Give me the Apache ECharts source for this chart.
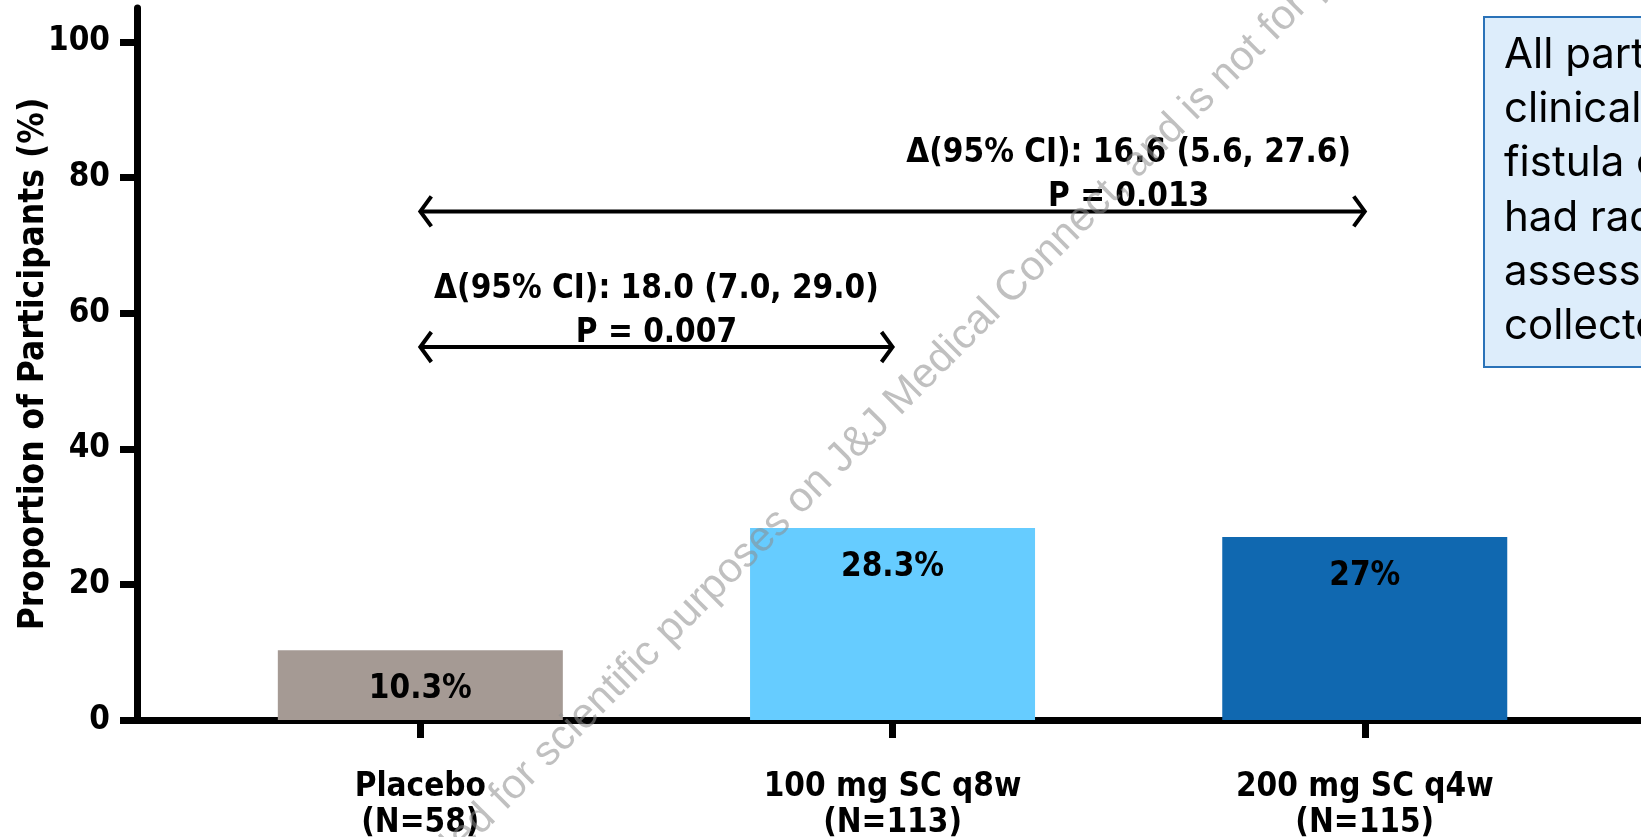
<!DOCTYPE html>
<html><head><meta charset="utf-8">
<style>html,body{margin:0;padding:0;background:#fff;overflow:hidden}#c{width:1641px;height:837px}</style>
<script src="https://cdn.jsdelivr.net/npm/echarts@6/dist/echarts.min.js"></script>
</head><body><div id="c"></div>
<script>
// ---- data ----
const categories = ['Placebo\n(N=58)', '100 mg SC q8w\n(N=113)', '200 mg SC q4w\n(N=115)'];
const values = [10.3, 28.3, 27];
const barLabels = ['10.3%', '28.3%', '27%'];
const barColors = ['#A59A94', '#66CCFF', '#1068B0'];
const yTicks = [0, 20, 40, 60, 80, 100];
const arrowFrom = [0, 0];
const arrowTo = [1, 2];
const arrowY = [55, 75];
const annotX = [0.5, 1.5];
const annotText = ['Δ(95% CI): 18.0 (7.0, 29.0)\nP = 0.007', 'Δ(95% CI): 16.6 (5.6, 27.6)\nP = 0.013'];
const noteText = 'All participants with\nclinical response of\nfistula closure who\nhad radiological\nassessments\ncollected';
const watermarkPre = 'This content is provided';
const watermarkPost = 'for scientific purposes on J&J Medical Connect, and is not for promotional use';

const FONT = '"DejaVu Sans Condensed", "DejaVu Sans", sans-serif';
const chart = echarts.init(document.getElementById('c'), null, {renderer: 'canvas'});

chart.setOption({
  animation: false,
  backgroundColor: '#ffffff',
  grid: {left: 137, right: 0, top: 8, bottom: 117, containLabel: false, outerBoundsMode: 'none'},
  xAxis: {
    type: 'value', min: -0.6, max: 2.585,
    splitLine: {show: false},
    axisLine: {show: true, onZero: false, lineStyle: {color: '#000', width: 7}},
    axisTick: {show: true, customValues: [0, 1, 2], length: 18, lineStyle: {color: '#000', width: 7}},
    axisLabel: {
      show: true, customValues: [0, 1, 2], margin: 49,
      formatter: v => categories[Math.round(v)] || '',
      color: '#000', fontFamily: FONT, fontWeight: 'bold', fontSize: 33, lineHeight: 36
    }
  },
  yAxis: {
    type: 'value', min: 0, max: 105,
    name: 'Proportion of Participants (%)', nameLocation: 'middle', nameGap: 86, nameMoveOverlap: false,
    nameTextStyle: {color: '#000', fontFamily: FONT, fontWeight: 'bold', fontSize: 35},
    splitLine: {show: false},
    axisLine: {show: true, onZero: false, lineStyle: {color: '#000', width: 7}},
    axisTick: {show: true, customValues: yTicks, length: 17, lineStyle: {color: '#000', width: 7}},
    axisLabel: {show: true, customValues: yTicks, margin: 27, color: '#000', fontFamily: FONT, fontWeight: 'bold', fontSize: 33}
  },
  series: [
    {
      type: 'bar', barWidth: 285,
      data: values.map((v, i) => ({value: [i, v], itemStyle: {color: barColors[i]}})),
      label: {
        show: true, position: 'insideTop', distance: 23,
        formatter: p => barLabels[p.dataIndex],
        color: '#000', fontFamily: FONT, fontWeight: 'bold', fontSize: 33
      },
      z: 2
    },
    {
      type: 'custom', clip: false, z: 5,
      data: arrowY.map((y, i) => [arrowFrom[i], arrowTo[i], y, annotX[i]]),
      encode: {x: [0, 1, 3], y: 2},
      renderItem: function (params, api) {
        const i = params.dataIndex;
        const p0 = api.coord([arrowFrom[i], arrowY[i]]);
        const p1 = api.coord([arrowTo[i], arrowY[i]]);
        const tx = api.coord([annotX[i], arrowY[i]])[0];
        const hw = 11, hh = 15;
        const ls = {stroke: '#000', lineWidth: 4, fill: null, lineJoin: 'miter'};
        return {
          type: 'group',
          children: [
            {type: 'line', shape: {x1: p0[0] + 1, y1: p0[1], x2: p1[0] - 1, y2: p1[1]}, style: ls},
            {type: 'polyline', shape: {points: [[p0[0] + hw, p0[1] - hh], [p0[0], p0[1]], [p0[0] + hw, p0[1] + hh]]}, style: ls},
            {type: 'polyline', shape: {points: [[p1[0] - hw, p1[1] - hh], [p1[0], p1[1]], [p1[0] - hw, p1[1] + hh]]}, style: ls},
            {type: 'text', style: {
              text: annotText[i], x: tx, y: p0[1] + 8, align: 'center', verticalAlign: 'bottom',
              fontFamily: FONT, fontWeight: 'bold', fontSize: 33, lineHeight: 44, fill: '#000'
            }}
          ]
        };
      }
    }
  ],
  graphic: [
    {type: 'rect', left: 1483, top: 16, z: 10,
     shape: {x: 0, y: 0, width: 320, height: 350},
     style: {fill: '#DDEDFB', stroke: '#2A72B8', lineWidth: 2}},
    {type: 'text', x: 1504, y: 28, z: 11,
     style: {text: noteText, fontFamily: 'Inter, "Noto Sans", sans-serif', fontSize: 42, lineHeight: 54.3, fill: '#000', align: 'left', verticalAlign: 'top'}},
    {type: 'text', x: 512, y: 818, rotation: Math.PI / 4, z: 20, silent: true,
     style: {text: watermarkPre + ' ', fontFamily: '"Liberation Sans", Arial, sans-serif', fontSize: 42, fill: 'rgba(140,140,140,0.55)', align: 'right', verticalAlign: 'bottom'}},
    {type: 'text', x: 512, y: 818, rotation: Math.PI / 4, z: 20, silent: true,
     style: {text: watermarkPost, fontFamily: '"Liberation Sans", Arial, sans-serif', fontSize: 42, fill: 'rgba(140,140,140,0.55)', align: 'left', verticalAlign: 'bottom'}}
  ]
});
</script></body></html>
